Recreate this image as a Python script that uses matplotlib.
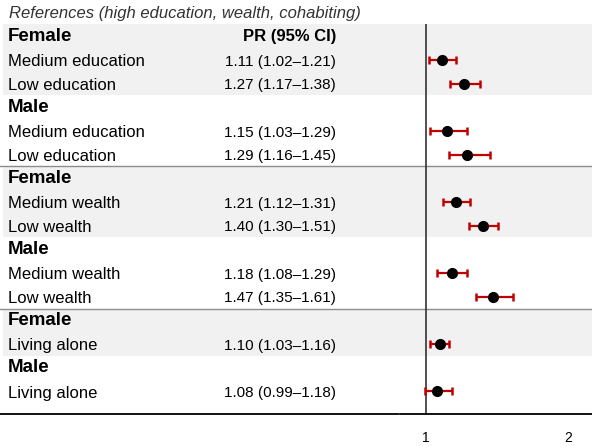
"""Forest plot of prevalence ratios by sex, education, wealth and living situation."""

import matplotlib

matplotlib.use("Agg")
import matplotlib.pyplot as plt

plt.rcParams["font.family"] = ["Liberation Sans", "DejaVu Sans"]

TITLE = "References (high education, wealth, cohabiting)"
GROUPS = ["Female", "Male", "Female", "Male", "Female", "Male"]
GROUP_SIZES = [2, 2, 2, 2, 1, 1]
ROW_LABELS = [
    "Medium education", "Low education",
    "Medium education", "Low education",
    "Medium wealth", "Low wealth",
    "Medium wealth", "Low wealth",
    "Living alone",
    "Living alone",
]
PR = [1.11, 1.27, 1.15, 1.29, 1.21, 1.40, 1.18, 1.47, 1.10, 1.08]
CI_LO = [1.02, 1.17, 1.03, 1.16, 1.12, 1.30, 1.08, 1.35, 1.03, 0.99]
CI_HI = [1.21, 1.38, 1.29, 1.45, 1.31, 1.51, 1.29, 1.61, 1.16, 1.18]
X_TICKS = [1, 2]

W, H = 592, 446
ROW0, ROW_H = 36.3, 23.67         # pixel centre of first row, row pitch
SHADE = "#f1f1f1"
RED = "#c00000"
TXT_NUDGE = 0.07                  # visual centring of regular text


def row_to_px(r):
    return ROW0 + ROW_H * r


fig = plt.figure(figsize=(W / 100, H / 100), dpi=100)

# background / table layer in pixel-like units
ax_bg = fig.add_axes([0, 0, 1, 1])
ax_bg.set_xlim(0, W)
ax_bg.set_ylim((H - ROW0) / ROW_H, -ROW0 / ROW_H)
ax_bg.axis("off")

# lay out header rows and item rows
header_rows, item_rows = [], []
r = 0
for n in GROUP_SIZES:
    header_rows.append(r)
    item_rows.extend(range(r + 1, r + 1 + n))
    r += n + 1
last_row = r - 1

# shaded blocks behind the Female sections
block_start = 0
for i, n in enumerate(GROUP_SIZES):
    if i % 2 == 0:
        ax_bg.axhspan(block_start - 0.5, block_start + n + 0.5,
                      xmin=3 / W, xmax=1, color=SHADE, lw=0, zorder=0)
    block_start += n + 1

# separators between the three domains
sep_rows = [header_rows[2] - 0.5, header_rows[4] - 0.5]
for y in sep_rows:
    ax_bg.axhline(y, color="#8c8c8c", lw=1.0, zorder=1)
bottom = last_row + 0.96
ax_bg.plot([0, 398], [bottom, bottom], color="black", lw=1.3, zorder=1)

ax_bg.text(9, -0.97, TITLE, style="italic", fontsize=12, color="#333333",
           va="center", ha="left")
ax_bg.text(336, 0, "PR (95% CI)", fontsize=12, fontweight="bold",
           va="center", ha="right")
for row, g in zip(header_rows, GROUPS):
    ax_bg.text(8, row, g, fontsize=13.5, fontweight="bold",
               va="center", ha="left")
for row, lab, p, lo, hi in zip(item_rows, ROW_LABELS, PR, CI_LO, CI_HI):
    ax_bg.text(8, row + TXT_NUDGE, lab, fontsize=12, va="center", ha="left")
    ax_bg.text(336, row + TXT_NUDGE, f"{p:.2f} ({lo:.2f}\u2013{hi:.2f})",
               fontsize=11, va="center", ha="right")

# forest panel
x_left_px, x1_px, px_per_unit = 400, 426, 142
top_px, bot_px = row_to_px(-0.5), row_to_px(bottom)
ax = fig.add_axes([x_left_px / W, 1 - bot_px / H,
                   1 - x_left_px / W, (bot_px - top_px) / H])
ax.set_xlim(1 - (x1_px - x_left_px) / px_per_unit,
            1 + (W - x1_px) / px_per_unit)
ax.set_ylim(bottom, -0.5)
ax.patch.set_alpha(0)
for side in ("top", "right", "left"):
    ax.spines[side].set_visible(False)
ax.spines["bottom"].set_linewidth(1.3)
ax.set_yticks([])
ax.set_xticks(X_TICKS)
ax.set_xticklabels([str(t) for t in X_TICKS])
ax.tick_params(axis="x", length=0, pad=12, labelsize=10)

ax.axvline(1, color="#333333", lw=1.2, zorder=1)
err = [[p - lo for p, lo in zip(PR, CI_LO)], [hi - p for p, hi in zip(PR, CI_HI)]]
ax.errorbar(PR, item_rows, xerr=err, fmt="none", ecolor=RED, elinewidth=1.6,
            capsize=3, capthick=1.8, zorder=2)
ax.plot(PR, item_rows, "o", color="black", ms=7, zorder=3)

fig.savefig("out.png", dpi=100)
